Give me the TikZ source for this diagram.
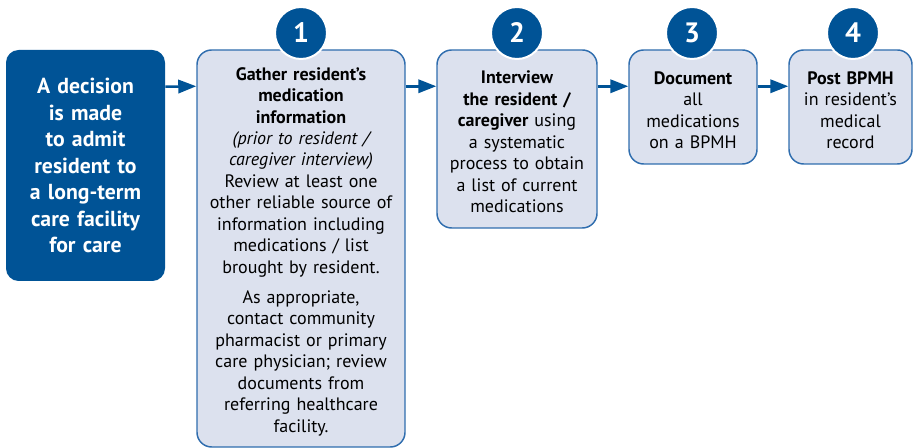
\documentclass[tikz,border=0pt]{standalone}
\usepackage{fontspec}
\setmainfont{PT Sans}
\usetikzlibrary{calc,arrows.meta}
\definecolor{navy}{HTML}{005396}
\definecolor{lightfill}{HTML}{DCE1EE}
\definecolor{edgeblue}{HTML}{2F6DAE}
\begin{document}
\begin{tikzpicture}[x=0.75pt,y=-0.75pt,
  darkbox/.style={fill=navy, draw=none, rounded corners=9.5pt, text=white, inner sep=0pt, align=center,
    font=\fontsize{16.3}{19.9}\selectfont\bfseries},
  stepbox/.style={fill=lightfill, draw=edgeblue, line width=1.1pt, rounded corners=11pt, inner sep=0pt, align=center,
    font=\fontsize{13.5}{16.1}\selectfont, execute at end node={\endgraf\vspace*{-4.5pt}}},
  numcirc/.style={circle, fill=navy, draw=white, line width=1.5pt, minimum size=39pt, inner sep=0pt, text=white,
    font=\fontsize{21}{21}\selectfont\bfseries},
  flow/.style={draw=navy, line width=1.9pt, -{Triangle[length=13.5pt,width=10pt]}}]
\useasboundingbox (0,0) rectangle (913,448);

\node[darkbox, text width=119.25pt, minimum height=173.25pt] (D) at (85.5,165.5)
  {A decision\\ is made\\ to admit\\ resident to\\ a long-term\\ care facility\\ for care};

\node[stepbox, text width=156pt, minimum height=297.75pt] (B1) at (301,248.5)
  {{\bfseries Gather resident’s\\ medication\\ information}\\
   {\itshape (prior to resident /\\ caregiver interview)}\\
   Review at least one\\ other reliable source of\\ information including\\ medications / list\\ brought by resident.\\[6.4pt]
   As appropriate,\\ contact community\\ pharmacist or primary\\ care physician; review\\ documents from\\ referring healthcare\\ facility.};

\node[stepbox, text width=120pt, minimum height=133.5pt] (B2) at (517,139)
  {{\bfseries Interview\\ the resident /\\ caregiver} using\\ a systematic\\ process to obtain\\ a list of current\\ medications};

\node[stepbox, text width=96pt, minimum height=85.5pt] (B3) at (693,107)
  {{\bfseries Document}\\ all\\ medications\\ on a BPMH};

\node[stepbox, text width=92.25pt, minimum height=85.5pt] (B4) at (850.5,107)
  {{\bfseries Post BPMH}\\ in resident’s\\ medical\\ record};

\node[numcirc] (N1) at (301,33) {1};
\node[numcirc] (N2) at (517,33) {2};
\node[numcirc] (N3) at (692,33) {3};
\node[numcirc] (N4) at (853,33) {4};

\draw[flow] ($(D.north east)+(0,37)$) -- ($(B1.north west)+(0,37)$);
\draw[flow] ($(B1.north east)+(0,37)$) -- ($(B2.north west)+(0,37)$);
\draw[flow] ($(B2.north east)+(0,37)$) -- ($(B3.north west)+(0,37)$);
\draw[flow] ($(B3.north east)+(0,37)$) -- ($(B4.north west)+(0,37)$);
\end{tikzpicture}
\end{document}
